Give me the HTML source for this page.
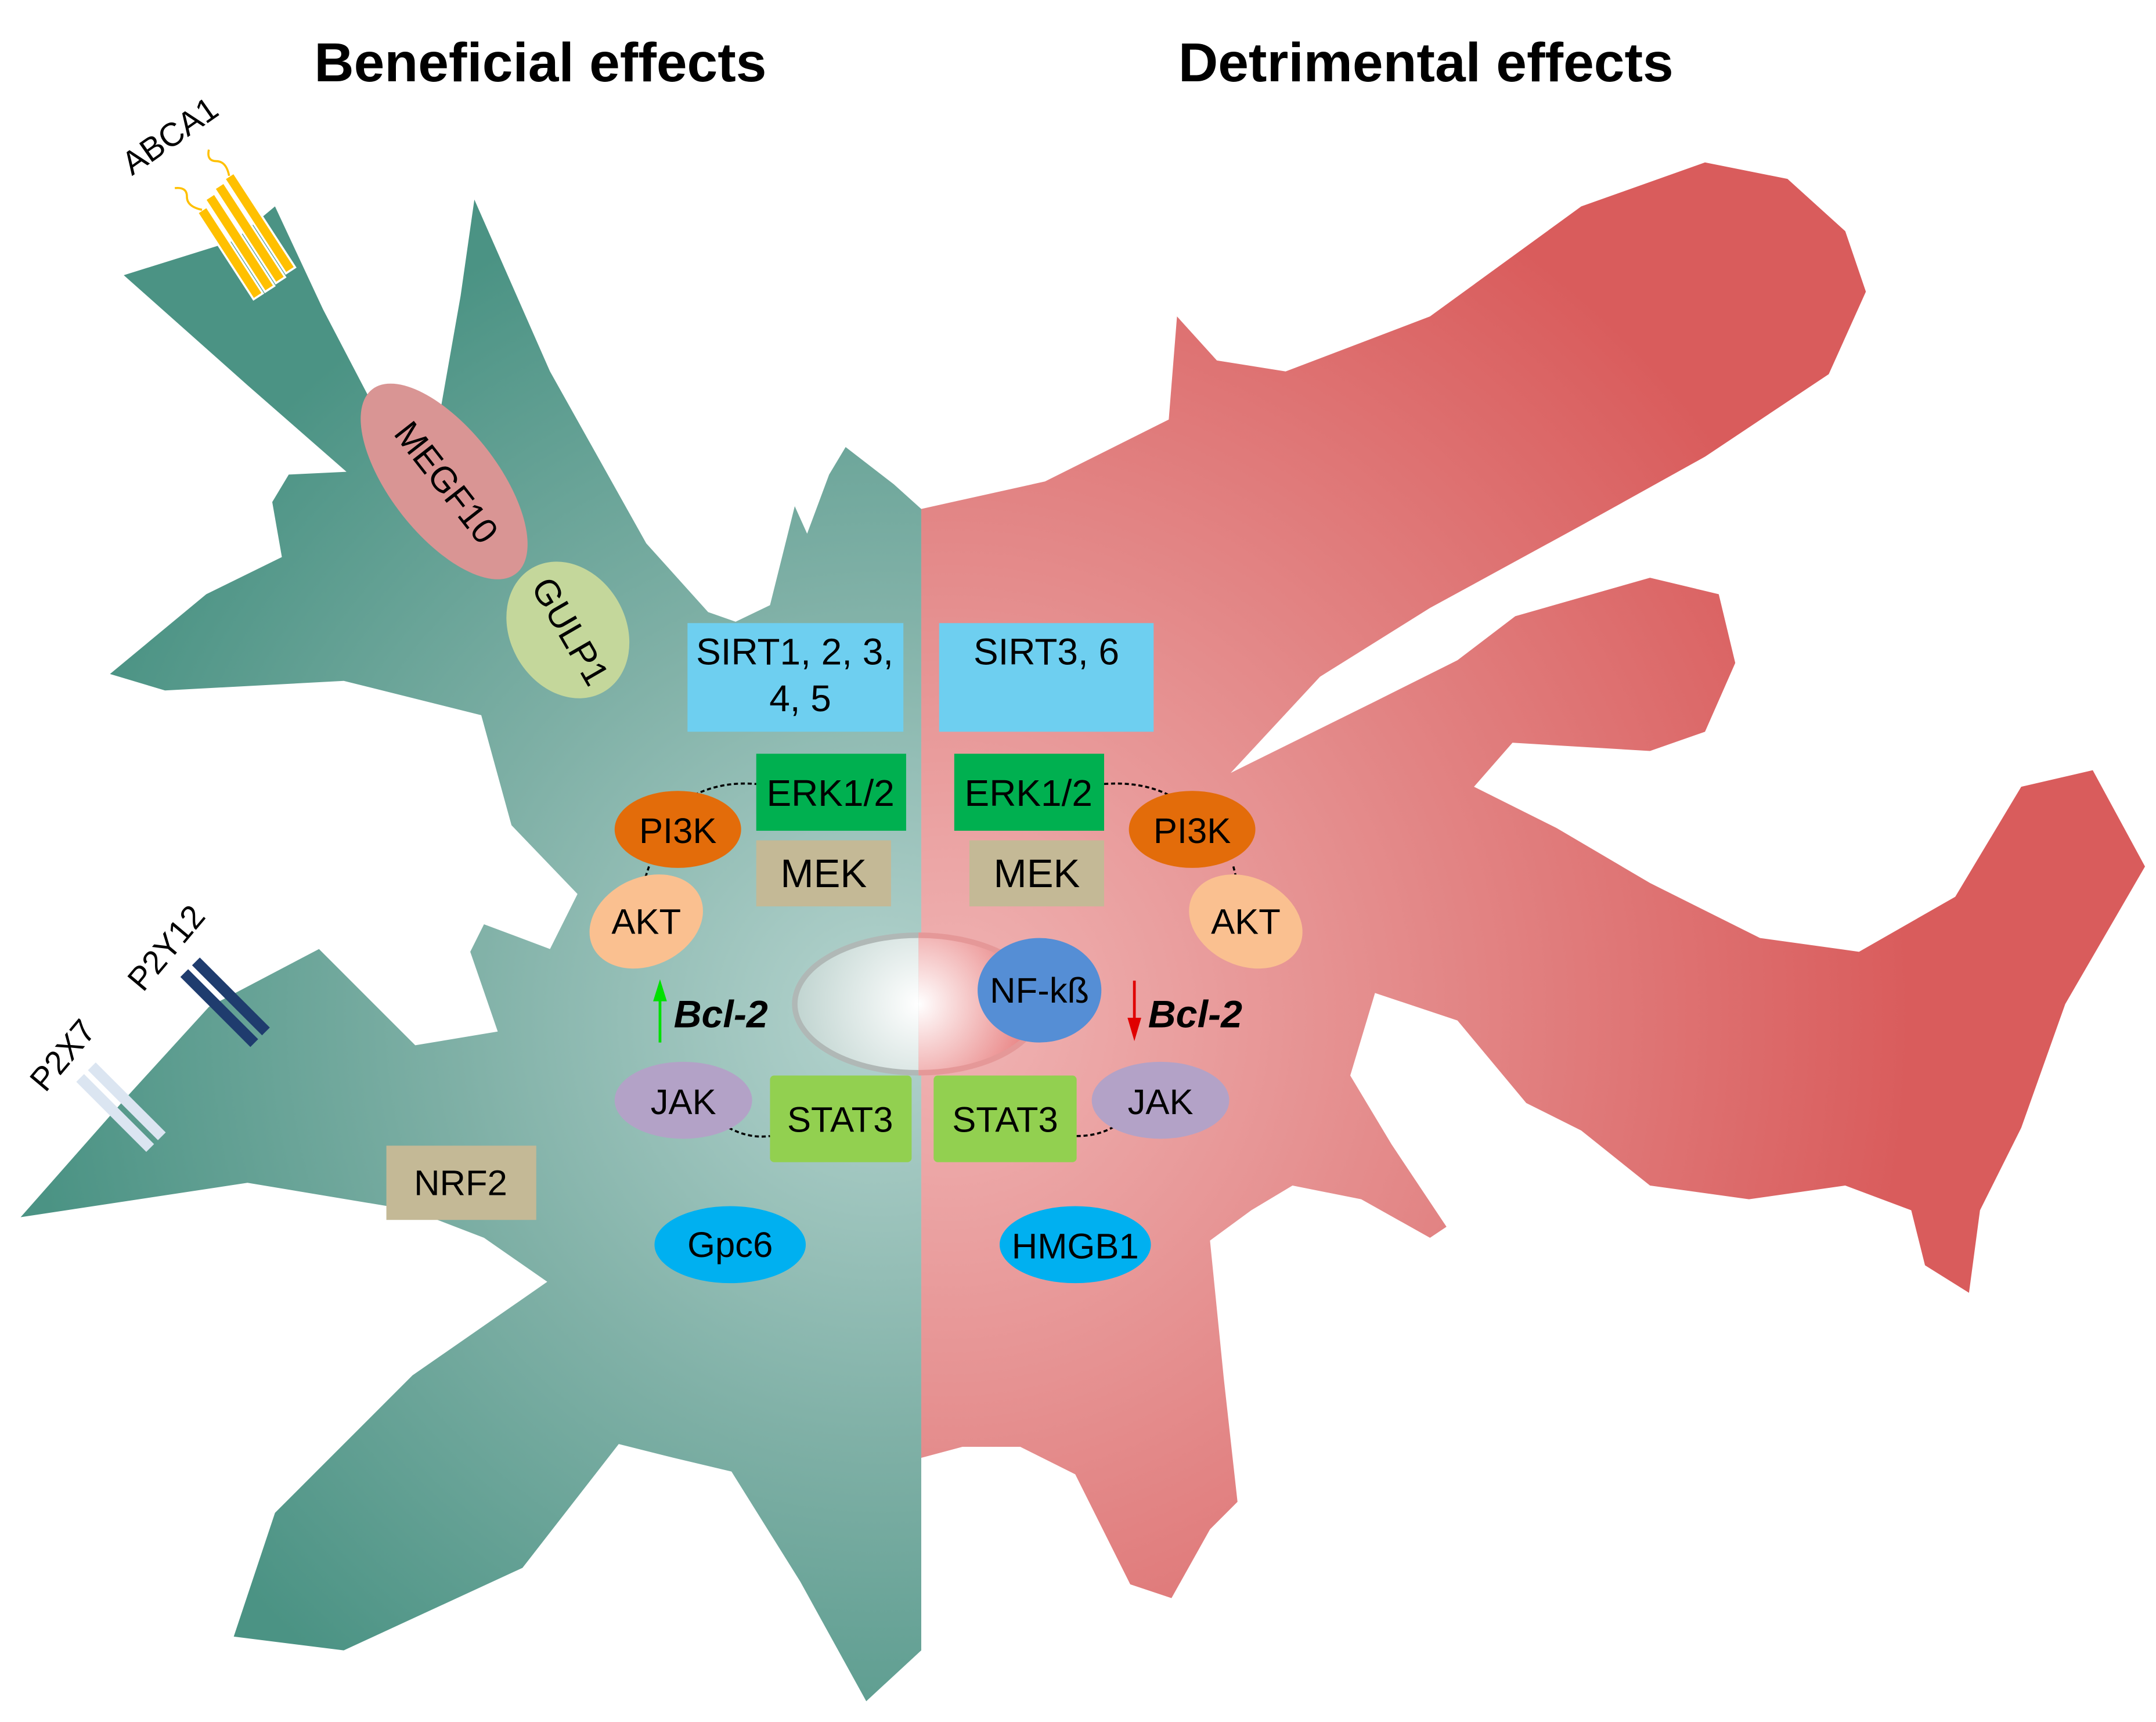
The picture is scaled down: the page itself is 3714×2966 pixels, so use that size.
<!DOCTYPE html>
<html><head><meta charset="utf-8"><style>
html,body{margin:0;padding:0;background:#fff;}
svg{display:block;}
text{font-family:"Liberation Sans",Arial,sans-serif;}
</style></head><body>
<svg width="3714" height="2966" viewBox="0 0 1568 1252" xmlns="http://www.w3.org/2000/svg">
<defs>
<radialGradient id="gg" cx="640" cy="740" r="620" gradientUnits="userSpaceOnUse">
<stop offset="0" stop-color="#b4d3ce"/><stop offset="0.5" stop-color="#7fb0a6"/><stop offset="1" stop-color="#4b9384"/></radialGradient>
<radialGradient id="rg" cx="690" cy="740" r="700" gradientUnits="userSpaceOnUse">
<stop offset="0" stop-color="#f0b4b4"/><stop offset="0.5" stop-color="#e38888"/><stop offset="1" stop-color="#d95c5c"/></radialGradient>
<radialGradient id="ng" cx="668" cy="730" r="90" gradientUnits="userSpaceOnUse">
<stop offset="0" stop-color="#ffffff"/><stop offset="1" stop-color="#c0d4d0"/></radialGradient>
<radialGradient id="nr" cx="668" cy="730" r="90" gradientUnits="userSpaceOnUse">
<stop offset="0" stop-color="#ffffff"/><stop offset="1" stop-color="#e77878"/></radialGradient>
</defs>
<text x="393" y="59" font-size="40" font-weight="bold" text-anchor="middle">Beneficial effects</text>
<text x="1037" y="59" font-size="40" font-weight="bold" text-anchor="middle">Detrimental effects</text>

<polygon fill="url(#gg)" stroke-linejoin="round" points="670,370 650,352 615,325 603,345 587,388 578,368 560,440 535,452 515,445 470,395 400,270 345,145 335,215 320,300 300,330 270,292 235,225 200,150 170,175 90,200 180,280 252,343 210,345 198,365 205,405 150,432 80,490 120,502 250,495 350,520 372,600 420,650 400,690 352,672 342,692 362,750 302,760 232,690 152,732 90,800 15,885 180,860 300,880 352,900 398,932 300,1000 200,1100 170,1190 250,1200 380,1140 450,1050 490,1060 532,1070 582,1150 630,1237 670,1200"/>

<polygon fill="url(#rg)" stroke-linejoin="round" points="670,370 760,350 850,305 856,230 885,262 935,270 1040,230 1150,150 1240,118 1300,130 1342,168 1357,212 1330,272 1240,332 1150,382 1040,442 960,492 895,562 1000,510 1060,480 1102,448 1200,420 1250,432 1262,482 1240,532 1200,546 1100,540 1072,572 1132,602 1200,642 1280,682 1352,692 1422,652 1470,572 1522,560 1560,630 1502,730 1470,820 1440,880 1432,940 1400,920 1390,880 1342,862 1272,872 1200,862 1150,822 1110,802 1060,742 1000,722 982,782 1012,832 1052,892 1040,900 990,872 940,862 910,880 880,902 890,1002 900,1092 880,1112 852,1162 822,1152 782,1072 742,1052 700,1052 670,1060"/>

<!-- nucleus -->
<path d="M668,680 A90,50 0 0 0 668,780" fill="url(#ng)" stroke="#b0b8b6" stroke-width="4"/>
<path d="M668,680 A90,50 0 0 1 668,780" fill="url(#nr)" stroke="#e59898" stroke-width="4"/>

<!-- ABCA1 -->
<g transform="translate(175,170) rotate(-33)">
<rect x="-18" y="-30" width="8" height="75" fill="#ffc000" stroke="#fff" stroke-width="1.5"/>
<rect x="-8" y="-35" width="8" height="80" fill="#ffc000" stroke="#fff" stroke-width="1.5"/>
<rect x="2" y="-38" width="8" height="82" fill="#ffc000" stroke="#fff" stroke-width="1.5"/>
<rect x="12" y="-40" width="8" height="82" fill="#ffc000" stroke="#fff" stroke-width="1.5"/>
<path d="M-14,-30 q-8,-8 -4,-14 q4,-6 -4,-10 M16,-40 q4,-10 -2,-14 q-6,-4 0,-10" stroke="#ffc000" fill="none" stroke-width="1.5"/>
</g>
<text transform="translate(96,128) rotate(-35)" font-size="24">ABCA1</text>

<!-- MEGF10, GULP1 -->
<ellipse cx="323" cy="350" rx="85" ry="39" fill="#d99594" transform="rotate(52 323 350)"/>
<text transform="translate(323,352) rotate(52)" font-size="26" text-anchor="middle" dominant-baseline="middle">MEGF10</text>
<ellipse cx="413" cy="458" rx="52" ry="42" fill="#c4d79b" transform="rotate(60 413 458)"/>
<text transform="translate(413,460) rotate(60)" font-size="26" text-anchor="middle" dominant-baseline="middle">GULP1</text>

<!-- P2Y12 / P2X7 -->
<g transform="rotate(45 163 728)"><rect x="128" y="718" width="72" height="8" fill="#1f3c6e"/><rect x="128" y="730" width="72" height="8" fill="#1f3c6e"/></g>
<text transform="translate(104,722) rotate(-50)" font-size="24">P2Y12</text>
<g transform="rotate(45 88 805)"><rect x="52" y="795" width="72" height="8" fill="#dbe5f1"/><rect x="52" y="807" width="72" height="8" fill="#dbe5f1"/></g>
<text transform="translate(33,795) rotate(-50)" font-size="24">P2X7</text>

<!-- dotted connectors -->
<g fill="none" stroke="#000" stroke-width="1.5" stroke-dasharray="3,2">
<path d="M505,578 Q525,568 550,570"/><path d="M472,630 L468,642"/>
<path d="M530,820 Q545,828 560,826"/>
<path d="M803,570 Q830,568 850,578"/><path d="M897,630 L900,642"/>
<path d="M783,826 Q800,826 812,818"/>
</g>

<!-- boxes -->
<rect x="500" y="453" width="157" height="79" fill="#6ecff0"/>
<text x="578" y="483" font-size="27" text-anchor="middle">SIRT1, 2, 3,</text>
<text x="582" y="517" font-size="27" text-anchor="middle">4, 5</text>
<rect x="683" y="453" width="156" height="79" fill="#6ecff0"/>
<text x="761" y="483" font-size="27" text-anchor="middle">SIRT3, 6</text>

<rect x="550" y="548" width="109" height="56" fill="#00b050"/>
<text x="604" y="586" font-size="27" text-anchor="middle">ERK1/2</text>
<rect x="694" y="548" width="109" height="56" fill="#00b050"/>
<text x="748" y="586" font-size="27" text-anchor="middle">ERK1/2</text>
<rect x="550" y="611" width="98" height="48" fill="#c4b996"/>
<text x="599" y="645" font-size="29" text-anchor="middle">MEK</text>
<rect x="705" y="611" width="98" height="48" fill="#c4b996"/>
<text x="754" y="645" font-size="29" text-anchor="middle">MEK</text>

<ellipse cx="493" cy="603" rx="46" ry="28" fill="#e36c0a"/>
<text x="493" y="613" font-size="26" text-anchor="middle">PI3K</text>
<ellipse cx="867" cy="603" rx="46" ry="28" fill="#e36c0a"/>
<text x="867" y="613" font-size="26" text-anchor="middle">PI3K</text>
<ellipse cx="470" cy="670" rx="43" ry="32" fill="#fac090" transform="rotate(-25 470 670)"/>
<text x="470" y="679" font-size="26" text-anchor="middle">AKT</text>
<ellipse cx="906" cy="670" rx="43" ry="32" fill="#fac090" transform="rotate(25 906 670)"/>
<text x="906" y="679" font-size="26" text-anchor="middle">AKT</text>

<ellipse cx="756" cy="720" rx="45" ry="38" fill="#558ed5"/>
<text x="756" y="729" font-size="26" text-anchor="middle">NF-kß</text>

<line x1="480" y1="758" x2="480" y2="722" stroke="#00e000" stroke-width="2"/>
<polygon points="480,712 475,728 485,728" fill="#00e000"/>
<text x="490" y="747" font-size="28" font-weight="bold" font-style="italic">Bcl-2</text>
<line x1="825" y1="713" x2="825" y2="745" stroke="#e00000" stroke-width="2"/>
<polygon points="825,757 820,740 830,740" fill="#e00000"/>
<text x="835" y="747" font-size="28" font-weight="bold" font-style="italic">Bcl-2</text>

<ellipse cx="497" cy="800" rx="50" ry="28" fill="#b3a2c7"/>
<text x="497" y="810" font-size="26" text-anchor="middle">JAK</text>
<ellipse cx="844" cy="800" rx="50" ry="28" fill="#b3a2c7"/>
<text x="844" y="810" font-size="26" text-anchor="middle">JAK</text>
<rect x="560" y="782" width="103" height="63" rx="3" fill="#92d050"/>
<text x="611" y="823" font-size="26" text-anchor="middle">STAT3</text>
<rect x="679" y="782" width="104" height="63" rx="3" fill="#92d050"/>
<text x="731" y="823" font-size="26" text-anchor="middle">STAT3</text>

<rect x="281" y="833" width="109" height="54" fill="#c4b996"/>
<text x="335" y="869" font-size="26" text-anchor="middle">NRF2</text>

<ellipse cx="531" cy="905" rx="55" ry="28" fill="#00b0f0"/>
<text x="531" y="914" font-size="26" text-anchor="middle">Gpc6</text>
<ellipse cx="782" cy="905" rx="55" ry="28" fill="#00b0f0"/>
<text x="782" y="915" font-size="26" text-anchor="middle">HMGB1</text>
</svg>
</body></html>
